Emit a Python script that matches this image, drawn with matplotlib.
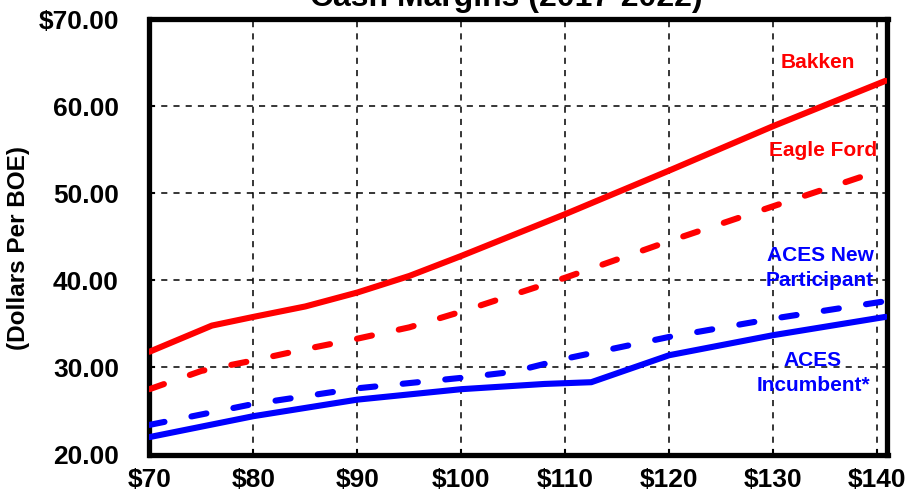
import matplotlib
matplotlib.use("Agg")
import matplotlib.pyplot as plt

plt.rcParams['font.family'] = ['Liberation Sans', 'DejaVu Sans']
plt.rcParams['font.weight'] = 'bold'

# oil price ($/bbl) and cash margin ($/BOE)
bakken_x = [70, 76, 80, 85, 90, 95, 100, 110, 120, 130, 140.8]
bakken_y = [31.8, 34.8, 35.8, 37.0, 38.6, 40.5, 42.8, 47.6, 52.6, 57.7, 62.9]

eagle_x = [70, 75, 80, 85, 90, 95, 100, 110, 120, 130, 140.8]
eagle_y = [27.5, 29.6, 30.8, 32.1, 33.3, 34.6, 36.4, 40.3, 44.5, 48.5, 52.8]

new_x = [70, 80, 90, 100, 105, 110, 120, 130, 140.8]
new_y = [23.4, 25.8, 27.6, 28.8, 29.5, 31.0, 33.5, 35.6, 37.6]

inc_x = [70, 80, 90, 100, 108, 112.5, 120, 130, 140.8]
inc_y = [22.0, 24.4, 26.3, 27.5, 28.1, 28.3, 31.4, 33.7, 35.8]

xticks = [70, 80, 90, 100, 110, 120, 130, 140]
xlabels = ['$70', '$80', '$90', '$100', '$110', '$120', '$130', '$140']
yticks = [20, 30, 40, 50, 60, 70]
ylabels = ['20.00', '30.00', '40.00', '50.00', '60.00', '$70.00']

fig = plt.figure(figsize=(9.12, 4.92), dpi=100)
ax = fig.add_axes([149.5 / 912, 37.5 / 492, 738 / 912, 435.5 / 492])

lw = 4.4
ax.plot(bakken_x, bakken_y, color='#ff0000', lw=lw, solid_capstyle='round', zorder=3)
ax.plot(eagle_x, eagle_y, color='#ff0000', lw=lw, dashes=(2.5, 4.5), dash_capstyle='round', zorder=3)
ax.plot(new_x, new_y, color='#0000ff', lw=lw, dashes=(2.5, 4.5), dash_capstyle='round', zorder=3)
ax.plot(inc_x, inc_y, color='#0000ff', lw=lw, solid_capstyle='round', zorder=3)

ax.set_xlim(70, 141.0)
ax.set_ylim(20, 70)
ax.set_xticks(xticks)
ax.set_xticklabels(xlabels)
ax.set_yticks(yticks)
ax.set_yticklabels(ylabels)
ax.tick_params(labelsize=19, direction='in', length=4, width=1.5)
ax.tick_params(axis='x', pad=10)
ax.tick_params(axis='y', pad=22)
ax.grid(True, color='black', linestyle=(0, (4, 4)), linewidth=1.1)
for s in ax.spines.values():
    s.set_linewidth(3.8)

fig.text(19 / 912, 1 - 248 / 492, '(Dollars Per BOE)', rotation=90, ha='center',
         va='center', fontsize=17.5, fontweight='bold')
fig.text(0.555, 1.005, 'Cash Margins (2017-2022)', ha='center', va='center',
         fontsize=23, fontweight='bold')

ax.text(818 / 912, 1 - 62 / 492, 'Bakken', transform=fig.transFigure, color='#ff0000',
        fontsize=15, ha='center', va='center')
ax.text(823 / 912, 1 - 151 / 492, 'Eagle Ford', transform=fig.transFigure, color='#ff0000',
        fontsize=15, ha='center', va='center')
ax.text(820 / 912, 1 - 268 / 492, 'ACES New\nParticipant', transform=fig.transFigure,
        color='#0000ff', fontsize=15, ha='center', va='center', linespacing=1.4)
ax.text(813 / 912, 1 - 373 / 492, 'ACES\nIncumbent*', transform=fig.transFigure,
        color='#0000ff', fontsize=15, ha='center', va='center', linespacing=1.4)

fig.savefig('out.png', dpi=100)
